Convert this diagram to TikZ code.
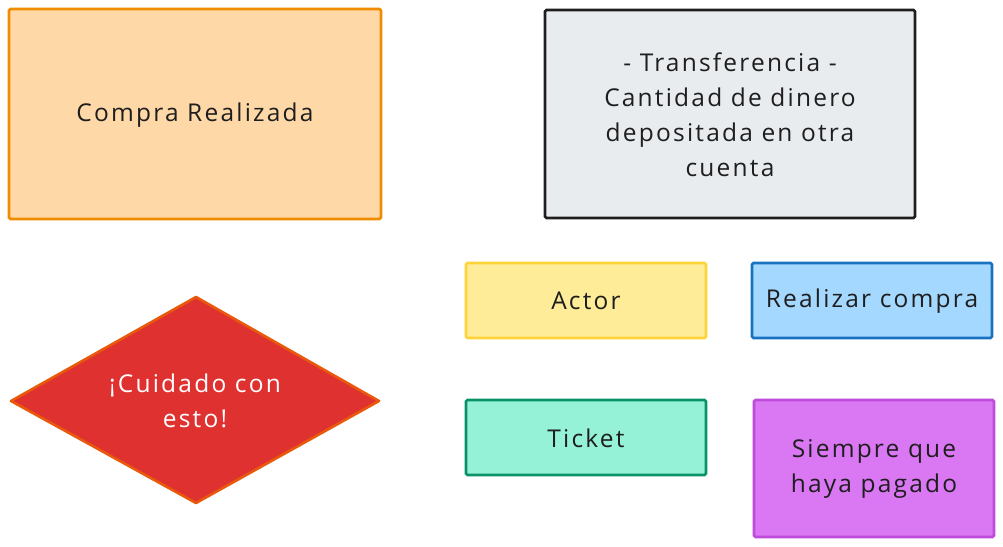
\documentclass[tikz,border=0pt]{standalone}
\usepackage{fontspec}
\setmainfont{Open Sans}[LetterSpace=9]
\usetikzlibrary{shapes.geometric}
\definecolor{orfill}{HTML}{FFD8A8}
\definecolor{orline}{HTML}{F08C00}
\definecolor{grfill}{HTML}{E9ECEF}
\definecolor{grline}{HTML}{1E1E1E}
\definecolor{rdfill}{HTML}{E03131}
\definecolor{rdline}{HTML}{E8590C}
\definecolor{yefill}{HTML}{FFEC99}
\definecolor{yeline}{HTML}{FFD43B}
\definecolor{blfill}{HTML}{A5D8FF}
\definecolor{blline}{HTML}{1971C2}
\definecolor{gnfill}{HTML}{96F2D7}
\definecolor{gnline}{HTML}{099268}
\definecolor{vifill}{HTML}{DA77F2}
\definecolor{viline}{HTML}{BE4BDB}
\definecolor{ink}{HTML}{1E1E1E}
\tikzset{
  box/.style={draw, line width=2.6pt, rounded corners=1.5pt},
  lbl/.style={font=\fontsize{24.5}{35}\selectfont, text=ink, align=center, inner sep=0pt},
}
\begin{document}
\begin{tikzpicture}[x=1pt,y=-1pt]
\useasboundingbox (0,0) rectangle (1003,546);
% boxes
\draw[box, fill=orfill, draw=orline] (9,9) rectangle (381,219);
\node[lbl] (compra) at (195,115) {Compra Realizada};

\draw[box, fill=grfill, draw=grline] (545,10) rectangle (915,218);
\node[lbl] (transf) at (730,115) {- Transferencia -\\Cantidad de dinero\\depositada en otra\\cuenta};

\draw[line width=2.6pt, fill=rdfill, draw=rdline, line join=round] (11,401) -- (196,297) -- (379,401) -- (196,503) -- cycle;
\node[lbl, text=white] (cuidado) at (195,401) {¡Cuidado con\\esto!};

\draw[box, fill=yefill, draw=yeline] (466,263) rectangle (706,338);
\node[lbl] (actor) at (586,301) {Actor};

\draw[box, fill=blfill, draw=blline] (752,263) rectangle (992,338);
\node[lbl] (realizar) at (872,301) {Realizar compra};

\draw[box, fill=gnfill, draw=gnline] (466,400) rectangle (706,475);
\node[lbl] (ticket) at (586,438) {Ticket};

\draw[box, fill=vifill, draw=viline] (754,400) rectangle (994,537);
\node[lbl] (siempre) at (874,469) {Siempre que\\haya pagado};
\end{tikzpicture}
\end{document}
